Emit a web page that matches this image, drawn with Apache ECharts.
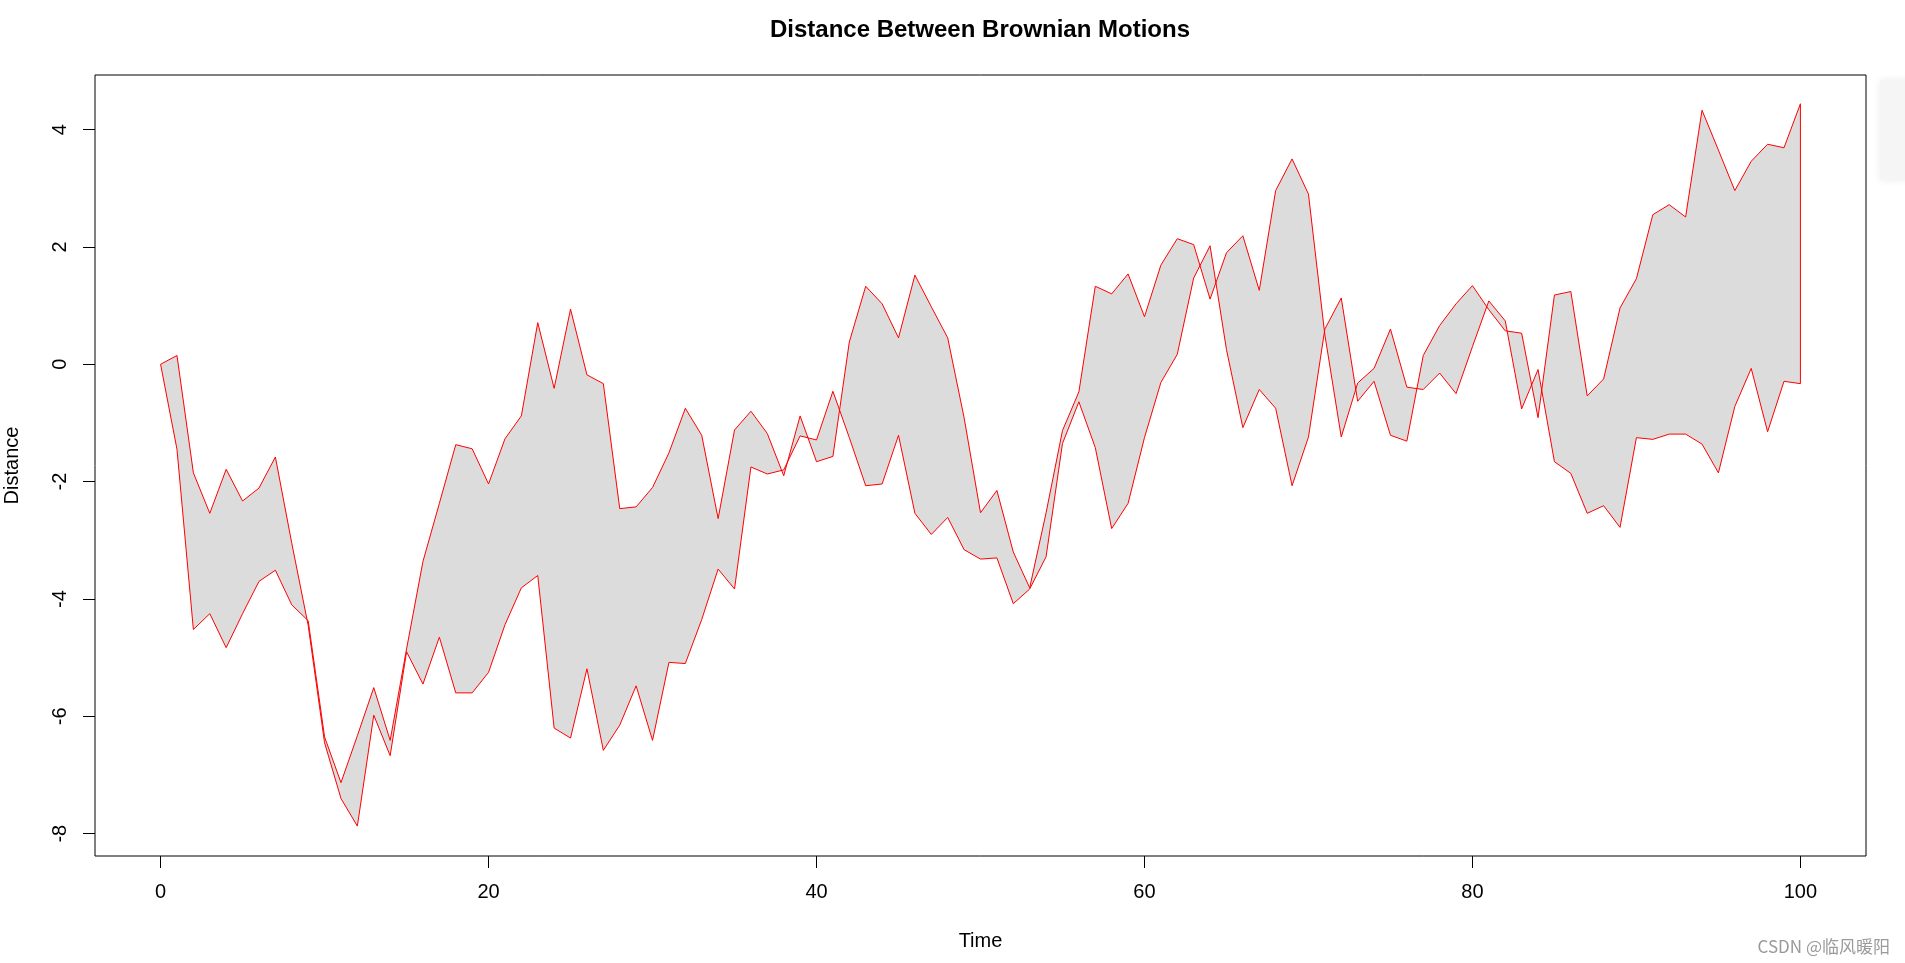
<!DOCTYPE html>
<html>
<head>
<meta charset="utf-8">
<script src="https://cdn.jsdelivr.net/npm/echarts@6/dist/echarts.min.js"></script>
<style>
html,body{margin:0;padding:0;background:#fff;}
#chart{width:1905px;height:963px;}
</style>
</head>
<body>
<div id="chart"></div>
<script>
// Time index
var time = [0,1,2,3,4,5,6,7,8,9,10,11,12,13,14,15,16,17,18,19,20,21,22,23,24,25,26,27,28,29,30,31,32,33,34,35,36,37,38,39,40,41,42,43,44,45,46,47,48,49,50,51,52,53,54,55,56,57,58,59,60,61,62,63,64,65,66,67,68,69,70,71,72,73,74,75,76,77,78,79,80,81,82,83,84,85,86,87,88,89,90,91,92,93,94,95,96,97,98,99,100];
// Brownian motion 1
var bm1 = [0,0.15,-1.85,-2.54,-1.79,-2.33,-2.11,-1.58,-3.05,-4.45,
  -6.45,-7.4,-7.87,-5.98,-6.67,-4.9,-5.45,-4.65,-5.6,-5.6,
  -5.25,-4.44,-3.81,-3.6,-6.2,-6.37,-5.19,-6.58,-6.15,-5.48,
  -6.41,-5.08,-5.1,-4.35,-3.49,-3.83,-1.75,-1.87,-1.8,-1.22,
  -1.29,-0.46,-1.25,-2.07,-2.04,-1.21,-2.54,-2.9,-2.61,-3.16,
  -3.32,-3.3,-4.08,-3.83,-3.28,-1.35,-0.64,-1.42,-2.8,-2.37,
  -1.25,-0.31,0.17,1.47,2.02,0.25,-1.08,-0.43,-0.75,-2.07,
  -1.24,0.6,1.13,-0.63,-0.29,-1.21,-1.31,0.15,0.66,1.03,
  1.34,0.93,0.57,0.53,-0.91,1.18,1.24,-0.54,-0.25,0.96,
  1.46,2.55,2.72,2.51,4.33,3.65,2.96,3.46,3.75,3.69,
  4.44];
// Brownian motion 2
var bm2 = [0,-1.45,-4.52,-4.25,-4.83,-4.25,-3.7,-3.51,-4.1,-4.37,
  -6.35,-7.13,-6.33,-5.51,-6.41,-4.85,-3.36,-2.37,-1.37,-1.44,
  -2.04,-1.27,-0.88,0.71,-0.41,0.94,-0.18,-0.33,-2.46,-2.43,
  -2.1,-1.51,-0.75,-1.21,-2.63,-1.12,-0.8,-1.18,-1.9,-0.88,
  -1.66,-1.57,0.38,1.33,1.03,0.45,1.52,0.98,0.45,-0.91,
  -2.53,-2.15,-3.2,-3.81,-2.53,-1.13,-0.47,1.33,1.2,1.54,
  0.81,1.69,2.14,2.04,1.11,1.9,2.19,1.26,2.96,3.5,
  2.9,0.5,-1.24,-0.32,-0.07,0.6,-0.39,-0.43,-0.15,-0.5,
  0.3,1.08,0.74,-0.76,-0.09,-1.66,-1.86,-2.54,-2.41,-2.78,
  -1.25,-1.28,-1.19,-1.19,-1.36,-1.85,-0.72,-0.07,-1.15,-0.29,
  -0.33];
var xTicks = [0,20,40,60,80,100];
var yTicks = [-8,-6,-4,-2,0,2,4];

var chart = echarts.init(document.getElementById('chart'));
var FONT = 'Liberation Sans, Arial, sans-serif';

function renderPoly(params, api) {
  var pts = [];
  for (var i = 0; i < time.length; i++) pts.push(api.coord([time[i], bm1[i]]));
  for (var j = time.length - 1; j >= 0; j--) pts.push(api.coord([time[j], bm2[j]]));
  return {
    type: 'polygon',
    shape: { points: pts },
    style: { fill: '#DCDCDC', stroke: '#FF0000', lineWidth: 1 }
  };
}

chart.setOption({
  animation: false,
  backgroundColor: '#fff',
  title: {
    text: 'Distance Between Brownian Motions',
    left: 975, top: 13, textAlign: 'center',
    textStyle: { fontFamily: FONT, fontSize: 24, fontWeight: 'bold', color: '#000' }
  },
  grid: {
    left: 95, top: 75, right: 39, bottom: 107,
    outerBoundsMode: 'none', containLabel: false,
    show: true, borderColor: '#000', borderWidth: 1, backgroundColor: 'transparent'
  },
  xAxis: {
    type: 'value', min: -4, max: 104,
    name: 'Time', nameLocation: 'middle', nameGap: 75,
    nameTextStyle: { fontFamily: FONT, fontSize: 20, color: '#000' },
    axisLine: { show: false, onZero: false },
    splitLine: { show: false },
    axisTick: { show: true, inside: false, length: 12, customValues: xTicks, lineStyle: { color: '#000', width: 1 } },
    axisLabel: { show: true, customValues: xTicks, margin: 26, fontFamily: FONT, fontSize: 20, color: '#000' }
  },
  yAxis: {
    type: 'value', min: -8.38, max: 4.93,
    name: 'Distance', nameLocation: 'middle', nameGap: 73, nameRotate: 90,
    nameTextStyle: { fontFamily: FONT, fontSize: 20, color: '#000' },
    axisLine: { show: false, onZero: false },
    splitLine: { show: false },
    axisTick: { show: true, inside: false, length: 12, customValues: yTicks, lineStyle: { color: '#000', width: 1 } },
    axisLabel: { show: true, customValues: yTicks, rotate: 90, margin: 25, fontFamily: FONT, fontSize: 20, color: '#000' }
  },
  graphic: [
    { type: 'rect', shape: { x: 1880, y: 80, width: 30, height: 100 },
      style: { fill: '#f5f5f5', shadowBlur: 8, shadowColor: 'rgba(0,0,0,0.08)' }, silent: true },
    { type: 'text', right: 15, bottom: 8, style: { text: 'CSDN @临风暖阳', font: '17px "Noto Sans CJK SC", sans-serif', fill: '#9a9a9a' } }
  ],
  series: [{
    type: 'custom',
    coordinateSystem: 'cartesian2d',
    renderItem: renderPoly,
    data: [[0, 0]],
    clip: false,
    silent: true
  }]
});
</script>
</body>
</html>
